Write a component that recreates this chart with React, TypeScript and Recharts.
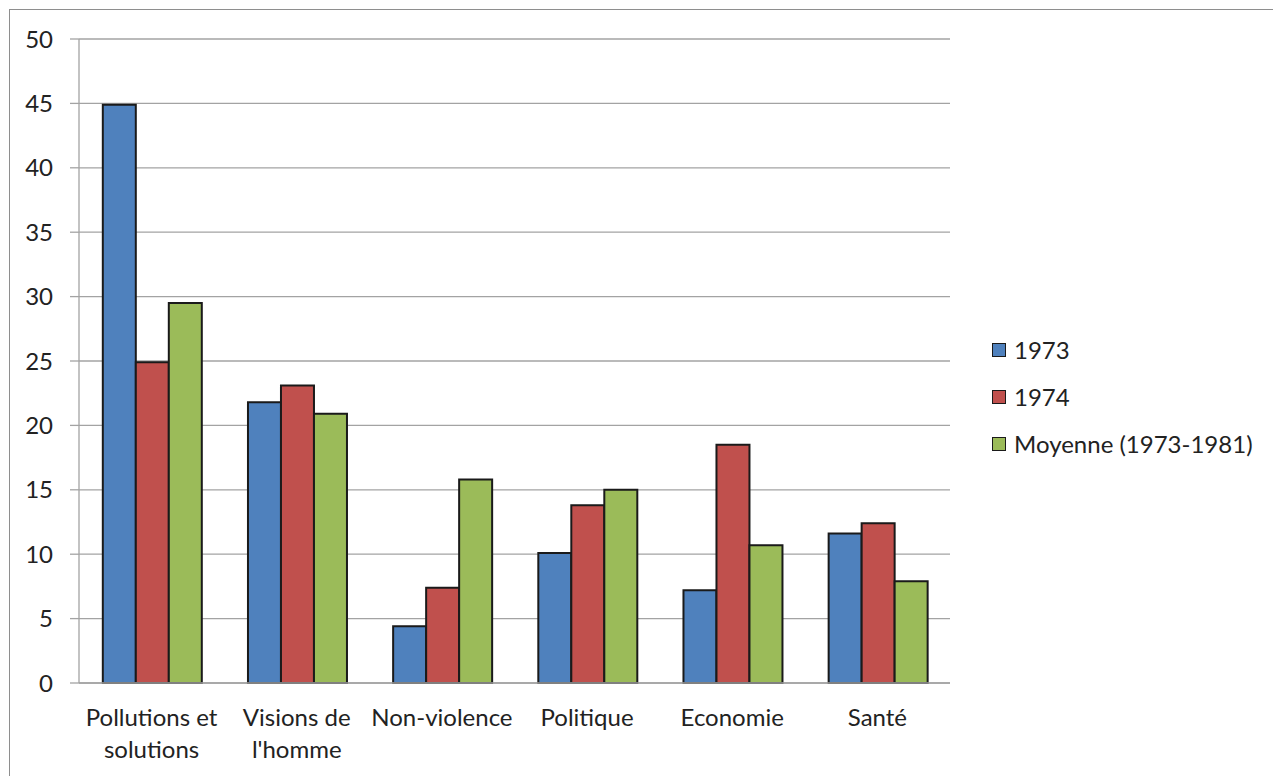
import { BarChart, Bar, XAxis, YAxis, CartesianGrid } from "recharts";

const categories = [
  "Pollutions et\nsolutions",
  "Visions de\nl'homme",
  "Non-violence",
  "Politique",
  "Economie",
  "Santé",
];
const values1973 = [44.9, 21.8, 4.4, 10.1, 7.2, 11.6];
const values1974 = [24.9, 23.1, 7.4, 13.8, 18.5, 12.4];
const valuesAvg = [29.5, 20.9, 15.8, 15.0, 10.7, 7.9];
const yTicks = [0, 5, 10, 15, 20, 25, 30, 35, 40, 45, 50];

const series = [
  { key: "y1973", name: "1973", color: "#4F81BD" },
  { key: "y1974", name: "1974", color: "#C0504D" },
  { key: "avg", name: "Moyenne (1973-1981)", color: "#9BBB59" },
];

const data = categories.map((c, i) => ({
  name: c,
  y1973: values1973[i],
  y1974: values1974[i],
  avg: valuesAvg[i],
}));

const FONT = "Lato, 'Open Sans', sans-serif";
const TEXT = "#222222";
const GRID = "#A3A3A3";
const FS = 24;

// two-line category labels, split on "\n"
function CategoryTick(props: any) {
  const { x, y, payload } = props;
  const lines = String(payload.value).split("\n");
  return (
    <text x={x} y={y} textAnchor="middle" fill={TEXT} fontSize={FS} fontFamily={FONT}>
      {lines.map((l, i) => (
        <tspan key={i} x={x} dy={i === 0 ? 35 : 32}>
          {l}
        </tspan>
      ))}
    </text>
  );
}

export default function App() {
  return (
    <div style={{ position: "absolute", left: 0, top: 0, width: 1273, height: 776, background: "#fff" }}>
      <div
        style={{
          position: "absolute",
          left: 9,
          top: 9,
          width: 1264,
          height: 767,
          borderLeft: "1.5px solid #8E8E8E",
          borderTop: "1.5px solid #8E8E8E",
          boxSizing: "border-box",
        }}
      />
      <div style={{ position: "absolute", left: 0, top: 0 }}>
        <BarChart
          width={1273}
          height={776}
          data={data}
          margin={{ top: 39, right: 323, left: 0, bottom: 33 }}
          barGap={0}
          barCategoryGap="16.4%"
        >
          <CartesianGrid vertical={false} stroke={GRID} strokeWidth={1.3} />
          <XAxis
            dataKey="name"
            interval={0}
            height={60}
            axisLine={{ stroke: GRID, strokeWidth: 1.3 }}
            tickLine={false}
            tick={<CategoryTick />}
          />
          <YAxis
            width={79}
            domain={[0, 50]}
            ticks={yTicks}
            interval={0}
            axisLine={{ stroke: GRID, strokeWidth: 1.3 }}
            tickLine={{ stroke: GRID, strokeWidth: 1.3 }}
            tickSize={9}
            tickMargin={17}
            tick={{ fill: TEXT, fontSize: FS, fontFamily: FONT }}
          />
          {series.map((s) => (
            <Bar
              key={s.key}
              dataKey={s.key}
              name={s.name}
              fill={s.color}
              stroke="#1A1A1A"
              strokeWidth={2}
              isAnimationActive={false}
            />
          ))}
        </BarChart>
      </div>
      <div style={{ position: "absolute", left: 992, top: 326, fontFamily: FONT, fontSize: FS, color: TEXT }}>
        {series.map((s) => (
          <div key={s.key} style={{ display: "flex", alignItems: "center", height: 47 }}>
            <span
              style={{
                display: "inline-block",
                width: 14,
                height: 14,
                background: s.color,
                border: "1.5px solid #1A1A1A",
                boxSizing: "border-box",
                marginRight: 8,
              }}
            />
            <span>{s.name}</span>
          </div>
        ))}
      </div>
    </div>
  );
}
